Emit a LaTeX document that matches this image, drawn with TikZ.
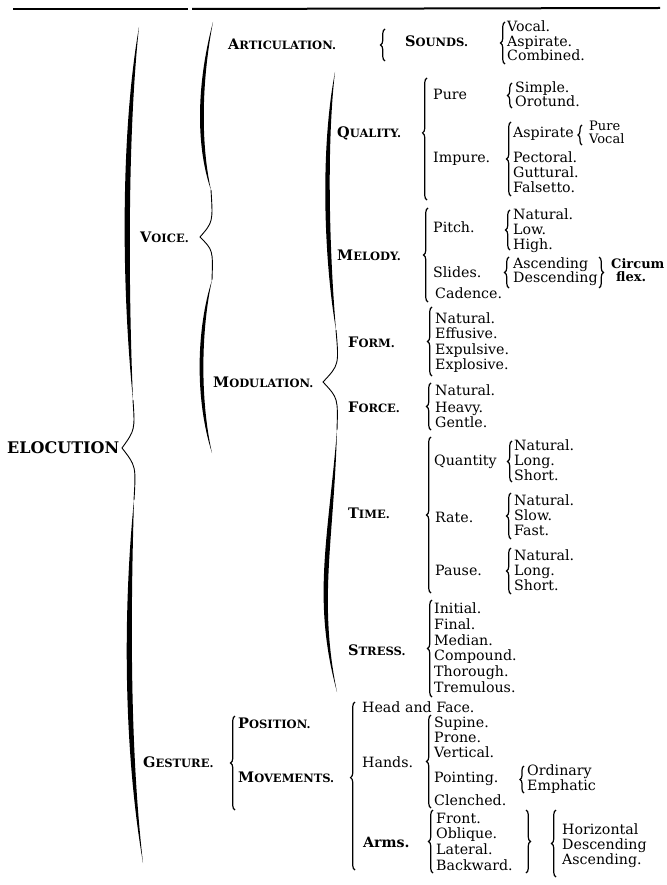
\documentclass[tikz,border=0pt]{standalone}
\usepackage{fontspec}
\setmainfont{DejaVu Serif}
\usetikzlibrary{decorations.pathreplacing,calc}

% small capitals: first letter full size, the rest smaller
\newcommand\smc[2]{#1{\fontsize{11.5}{12}\selectfont#2}}
% one thick stroke of a large brace, swelling in the middle
\newcommand\lens[5]{\fill #1 .. controls #2 and #3 .. #4
  .. controls ($#3+(#5,0)$) and ($#2+(#5,0)$) .. #1 -- cycle;}

\begin{document}
\begin{tikzpicture}[x=1pt,y=-1pt,
  it/.style={anchor=base west,inner sep=0pt,font=\fontsize{14.2}{15}\selectfont},
  hd/.style={anchor=base west,inner sep=0pt,font=\bfseries\fontsize{14.5}{15}\selectfont},
  brl/.style={decorate,decoration={brace,amplitude=4.5pt},line width=1.2pt},
  thin/.style={line width=0.9pt}]
  \useasboundingbox (0,0) rectangle (666,885);

  % rules at the head
  \draw[line width=2pt] (13,9) -- (188,9);
  \draw[line width=2pt] (192,9) -- (660,8);

  % large braces
  \lens{(139,27)}{(121,130)}{(121,280)}{(133,400)}{7}
  \draw[thin] (133,400) .. controls (135,430) .. (122,448) .. controls (136,466) .. (134,500);
  \lens{(134,500)}{(124,600)}{(122,740)}{(143,863)}{7}

  \lens{(213,22)}{(195,90)}{(197,150)}{(211,190)}{5}
  \draw[thin] (211,190) .. controls (213,222) .. (200,237) .. controls (213,250) .. (212,280);
  \lens{(212,280)}{(196,330)}{(195,400)}{(212,453)}{5}

  \lens{(335,72)}{(320,150)}{(324,260)}{(336,330)}{6}
  \draw[thin] (336,330) .. controls (339,365) .. (323,382) .. controls (338,398) .. (337,430);
  \lens{(337,430)}{(328,540)}{(312,600)}{(337,692)}{6}

  % headings
  \node[hd,font=\bfseries\fontsize{16}{17}\selectfont] (eloc) at (7,453) {ELOCUTION};
  \node[hd] (voice) at (140,242) {\smc{V}{OICE.}};
  \node[hd] (artic) at (228,50) {\smc{A}{RTICULATION.}};
  \node[hd] (sounds) at (405,47) {\smc{S}{OUNDS.}};
  \node[hd] (modul) at (213,387) {\smc{M}{ODULATION.}};
  \node[hd] (qual) at (337,138) {\smc{Q}{UALITY.}};
  \node[hd] (melody) at (337,260) {\smc{M}{ELODY.}};
  \node[hd] (form) at (348,347) {\smc{F}{ORM.}};
  \node[hd] (force) at (348,412) {\smc{F}{ORCE.}};
  \node[hd] (time) at (348,518) {\smc{T}{IME.}};
  \node[hd] (stress) at (348,655) {\smc{S}{TRESS.}};
  \node[hd] (gesture) at (143,767) {\smc{G}{ESTURE.}};
  \node[hd] (posit) at (238,728) {\smc{P}{OSITION.}};
  \node[hd] (movem) at (238,782) {\smc{M}{OVEMENTS.}};

  % articulation
  \draw[brl] (385,61) -- (385,29);
  \draw[brl] (505,64) -- (505,22);
  \node[it] (snd1) at (507,32) {Vocal.};
  \node[it] (snd2) at (507,47) {Aspirate.};
  \node[it] (snd3) at (507,61) {Combined.};

  % quality
  \draw[brl,decoration={aspect=0.55}] (427,200) -- (427,78);
  \node[it] (pure) at (433,100) {Pure};
  \draw[brl] (512,108) -- (512,83);
  \node[it] (simple) at (515,93) {Simple.};
  \node[it] (orot) at (515,107) {Orotund.};
  \node[it] (impure) at (433,163) {Impure.};
  \draw[brl] (511,196) -- (511,122);
  \node[it] (asp) at (513,138) {Aspirate};
  \draw[brl,decoration={amplitude=4pt}] (582,145) -- (582,125);
  \node[it,font=\fontsize{13}{14}\selectfont] (asp1) at (589,131) {Pure};
  \node[it,font=\fontsize{13}{14}\selectfont] (asp2) at (589,144) {Vocal};
  \node[it] (pect) at (513,163) {Pectoral.};
  \node[it] (gutt) at (513,178) {Guttural.};
  \node[it] (fals) at (513,193) {Falsetto.};

  % melody
  \draw[brl] (428,302) -- (428,208);
  \node[it] (pitch) at (433,233) {Pitch.};
  \draw[brl] (510,250) -- (510,210);
  \node[it] (pt1) at (513,220) {Natural.};
  \node[it] (pt2) at (513,235) {Low.};
  \node[it] (pt3) at (513,249) {High.};
  \node[it] (slides) at (433,277) {Slides.};
  \draw[brl] (509,288) -- (509,257);
  \node[it] (sl1) at (513,268) {Ascending};
  \node[it] (sl2) at (513,282) {Descending};
  \draw[brl] (599,257) -- (599,288);
  \node[it,font=\bfseries\fontsize{13}{14}\selectfont] (circ1) at (611,268) {Circum};
  \node[it,font=\bfseries\fontsize{13}{14}\selectfont] (circ2) at (616,281) {flex.};
  \node[it] (cad) at (435,298) {Cadence.};

  % form and force
  \draw[brl] (432,376) -- (432,307);
  \node[it] (fm1) at (435,323) {Natural.};
  \node[it] (fm2) at (435,338) {Effusive.};
  \node[it] (fm3) at (435,354) {Expulsive.};
  \node[it] (fm4) at (435,369) {Explosive.};
  \draw[brl] (431,430) -- (431,383);
  \node[it] (fc1) at (435,395) {Natural.};
  \node[it] (fc2) at (435,412) {Heavy.};
  \node[it] (fc3) at (435,427) {Gentle.};

  % time
  \draw[brl] (431,593) -- (431,437);
  \node[it] (quant) at (434,465) {Quantity};
  \draw[brl] (512,482) -- (512,441);
  \node[it] (qt1) at (514,450) {Natural.};
  \node[it] (qt2) at (514,465) {Long.};
  \node[it] (qt3) at (514,480) {Short.};
  \node[it] (rate) at (435,522) {Rate.};
  \draw[brl] (511,539) -- (511,493);
  \node[it] (rt1) at (514,505) {Natural.};
  \node[it] (rt2) at (514,520) {Slow.};
  \node[it] (rt3) at (514,535) {Fast.};
  \node[it] (pause) at (435,575) {Pause.};
  \draw[brl] (511,594) -- (511,548);
  \node[it] (ps1) at (514,560) {Natural.};
  \node[it] (ps2) at (514,575) {Long.};
  \node[it] (ps3) at (514,590) {Short.};

  % stress
  \draw[brl] (432,697) -- (432,600);
  \node[it] (st1) at (434,613) {Initial.};
  \node[it] (st2) at (434,629) {Final.};
  \node[it] (st3) at (434,645) {Median.};
  \node[it] (st4) at (434,660) {Compound.};
  \node[it] (st5) at (434,676) {Thorough.};
  \node[it] (st6) at (434,692) {Tremulous.};

  % gesture
  \draw[brl] (235,810) -- (235,716);
  \draw[brl,decoration={aspect=0.55}] (355,870) -- (355,702);
  \node[it] (head) at (362,712) {Head and Face.};
  \node[it] (hands) at (362,767) {Hands.};
  \draw[brl] (431,808) -- (431,715);
  \node[it] (hd1) at (434,727) {Supine.};
  \node[it] (hd2) at (434,742) {Prone.};
  \node[it] (hd3) at (434,757) {Vertical.};
  \node[it] (hd4) at (434,782) {Pointing.};
  \draw[brl,decoration={amplitude=4pt}] (524,793) -- (524,766);
  \node[it] (pnt1) at (527,775) {Ordinary};
  \node[it] (pnt2) at (527,790) {Emphatic};
  \node[it] (hd5) at (434,805) {Clenched.};
  \node[it,font=\bfseries\fontsize{14.2}{15}\selectfont] (arms) at (363,847) {Arms.};
  \draw[brl] (433,873) -- (433,810);
  \node[it] (ar1) at (436,823) {Front.};
  \node[it] (ar2) at (436,838) {Oblique.};
  \node[it] (ar3) at (436,854) {Lateral.};
  \node[it] (ar4) at (436,870) {Backward.};
  \draw[brl] (526,810) -- (526,873);
  \draw[brl] (556,877) -- (556,810);
  \node[it] (dir1) at (562,834) {Horizontal};
  \node[it] (dir2) at (562,849) {Descending};
  \node[it] (dir3) at (562,864) {Ascending.};
\end{tikzpicture}
\end{document}
